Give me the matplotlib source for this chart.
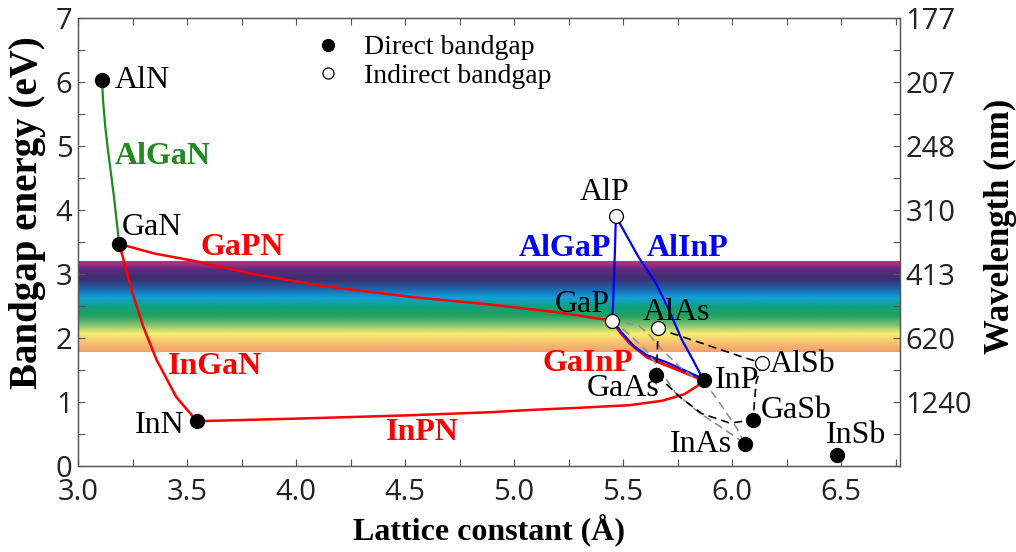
import numpy as np
import matplotlib
matplotlib.use("Agg")
import matplotlib.pyplot as plt
from matplotlib.colors import LinearSegmentedColormap
from matplotlib.lines import Line2D

# ── binary compounds: (lattice constant Å, bandgap eV) ───────────
direct_names = ["AlN", "GaN", "InN", "GaAs", "InP", "GaSb", "InAs", "InSb"]
direct_a     = [3.11, 3.189, 3.545, 5.653, 5.869, 6.096, 6.058, 6.479]
direct_eg    = [6.03, 3.47, 0.70, 1.42, 1.34, 0.72, 0.35, 0.17]

indirect_names = ["AlP", "GaP", "AlAs", "AlSb"]
indirect_a     = [5.467, 5.451, 5.661, 6.136]
indirect_eg    = [3.91, 2.27, 2.16, 1.61]

# ── alloy curves ───────────────────────────────────────────────
algan_a  = [3.11, 3.115, 3.125, 3.135, 3.15, 3.165, 3.178, 3.189]
algan_eg = [6.03, 5.70, 5.30, 5.00, 4.60, 4.20, 3.80, 3.47]

ingan_a  = [3.189, 3.25, 3.30, 3.36, 3.41, 3.45, 3.545]
ingan_eg = [3.47, 2.70, 2.17, 1.66, 1.34, 1.08, 0.70]

gapn_a  = [3.189, 3.35, 3.54, 3.80, 4.11, 4.53, 4.90, 5.20, 5.451]
gapn_eg = [3.47, 3.32, 3.20, 3.00, 2.82, 2.64, 2.52, 2.40, 2.27]

inpn_a  = [3.545, 4.00, 4.50, 4.89, 5.07, 5.30, 5.53, 5.68, 5.78, 5.84, 5.869]
inpn_eg = [0.70, 0.74, 0.79, 0.84, 0.875, 0.91, 0.95, 1.02, 1.12, 1.25, 1.34]

gainp_a  = [5.451, 5.48, 5.53, 5.61, 5.68, 5.869]
gainp_eg = [2.27, 2.12, 1.92, 1.70, 1.60, 1.34]

algap_a  = [5.467, 5.462, 5.456, 5.451]
algap_eg = [3.91, 3.30, 2.70, 2.27]

alinp_a  = [5.467, 5.48, 5.57, 5.65, 5.71, 5.77, 5.82, 5.869]
alinp_eg = [3.91, 3.82, 3.27, 2.86, 2.44, 1.97, 1.66, 1.34]

gainp_blue_a  = [5.451, 5.49, 5.55, 5.61, 5.70, 5.869]
gainp_blue_eg = [2.27, 2.10, 1.87, 1.73, 1.62, 1.36]

# black dashed
alas_gaas_a  = [5.661, 5.653]
alas_gaas_eg = [2.16, 1.42]
alas_alsb_a  = [5.661, 5.70, 5.86, 6.05, 6.136]
alas_alsb_eg = [2.16, 2.10, 1.92, 1.70, 1.61]
alsb_gasb_a  = [6.136, 6.11, 6.096]
alsb_gasb_eg = [1.61, 1.30, 0.72]
gaas_gasb_a  = [5.653, 5.68, 5.76, 5.86, 5.99, 6.096]
gaas_gasb_eg = [1.42, 1.34, 1.08, 0.82, 0.67, 0.72]

# gray dashed
gap_inp_a  = [5.451, 5.57, 5.62, 5.68, 5.76, 5.83, 5.869]
gap_inp_eg = [2.27, 2.20, 2.05, 1.81, 1.55, 1.37, 1.34]
gap_inas_a  = [5.451, 5.52, 5.605, 5.67, 5.74, 5.85, 5.97, 6.058]
gap_inas_eg = [2.27, 2.08, 1.81, 1.50, 1.14, 0.83, 0.56, 0.35]
inp_inas_a  = [5.869, 5.95, 6.02, 6.058]
inp_inas_eg = [1.34, 0.95, 0.60, 0.35]

# visible band
band_lo, band_hi = 1.78, 3.19
band_colors = ["#f0a070", "#f8c070", "#f8f070", "#80c070", "#20a060",
               "#10a080", "#10a0d8", "#2060a8", "#3a3070", "#5a2a7e", "#c0307f"]

wl_ticks  = [1, 2, 3, 4, 5, 6, 7]
wl_labels = ["1240", "620", "413", "310", "248", "207", "177"]

RED, BLUE, GREEN = "#ff0000", "#0000ff", "#1f8a1f"
SERIF = "Liberation Serif"
SANS = "Open Sans"

fig = plt.figure(figsize=(10.16, 5.52), dpi=100)
ax = fig.add_axes([0.0768, 0.1558, 0.809, 0.8116])
xlim = (3.0, 6.77)
ax.set_xlim(*xlim)
ax.set_ylim(0, 7)

cmap = LinearSegmentedColormap.from_list("vis", band_colors)
grad = np.linspace(0, 1, 256).reshape(-1, 1)
ax.imshow(grad, cmap=cmap, origin="lower", aspect="auto",
          extent=[xlim[0], xlim[1], band_lo, band_hi], zorder=0)

ax.plot(algan_a, algan_eg, color=GREEN, lw=1.6, zorder=2)
ax.plot(ingan_a, ingan_eg, color=RED, lw=1.8, zorder=2)
ax.plot(gapn_a, gapn_eg, color=RED, lw=1.8, zorder=2)
ax.plot(inpn_a, inpn_eg, color=RED, lw=1.8, zorder=2)
ax.plot(gainp_a, gainp_eg, color=RED, lw=2.2, zorder=2)
ax.plot(gainp_blue_a, gainp_blue_eg, color=BLUE, lw=1.6, zorder=2)
ax.plot(algap_a, algap_eg, color=BLUE, lw=1.6, zorder=2)
ax.plot(alinp_a, alinp_eg, color=BLUE, lw=1.6, zorder=2)

for xs, ys in [(gap_inp_a, gap_inp_eg), (gap_inas_a, gap_inas_eg),
               (inp_inas_a, inp_inas_eg)]:
    ax.plot(xs, ys, color="#909090", lw=1.2, ls=(0, (5, 3)), zorder=2)
for xs, ys in [(alas_gaas_a, alas_gaas_eg), (alas_alsb_a, alas_alsb_eg),
               (alsb_gasb_a, alsb_gasb_eg), (gaas_gasb_a, gaas_gasb_eg)]:
    ax.plot(xs, ys, color="black", lw=1.2, ls=(0, (5, 3)), zorder=2)

ax.plot(direct_a, direct_eg, "o", ms=10, color="black", ls="none", zorder=4)
ax.plot(indirect_a, indirect_eg, "o", ms=10, mfc="white", mec="black",
        mew=0.9, ls="none", zorder=4)

# ── text labels ────────────────────────────────────────────────
fs = 21
afs = 23
def lab(x, y, s, ha="left", color="black", bold=False, va="center"):
    ax.text(x, y, s, ha=ha, va=va, color=color, fontsize=afs, family=SERIF,
            fontweight="bold" if bold else "normal", zorder=5)

lab(3.17, 6.03, "AlN")
lab(3.17, 4.83, "AlGaN", color=GREEN, bold=True)
lab(3.20, 3.72, "GaN")
lab(3.56, 3.42, "GaPN", color=RED, bold=True)
lab(3.41, 1.55, "InGaN", color=RED, bold=True)
lab(3.49, 0.63, "InN", ha="right")
lab(4.41, 0.52, "InPN", color=RED, bold=True)
lab(5.415, 4.27, "AlP", ha="center")
lab(5.445, 3.40, "AlGaP", ha="right", color=BLUE, bold=True)
lab(5.607, 3.40, "AlInP", color=BLUE, bold=True)
lab(5.44, 2.52, "GaP", ha="right")
lab(5.59, 2.40, "AlAs")
lab(5.547, 1.60, "GaInP", ha="right", color=RED, bold=True)
lab(5.666, 1.21, "GaAs", ha="right")
lab(5.92, 1.34, "InP")
lab(6.175, 1.58, "AlSb")
lab(6.133, 0.87, "GaSb")
lab(6.00, 0.33, "InAs", ha="right")
lab(6.43, 0.47, "InSb")

handles = [
    Line2D([], [], marker="o", ls="none", ms=8.5, color="black"),
    Line2D([], [], marker="o", ls="none", ms=8, mfc="white", mec="black", mew=0.9),
]
ax.legend(handles, ["Direct bandgap", "Indirect bandgap"], loc="upper left",
          bbox_to_anchor=(0.24, 1.018), frameon=False, handletextpad=0.3,
          labelspacing=0.12, prop={"family": SERIF, "size": 20})

# ── axes styling ───────────────────────────────────────────────
ax.set_xticks(np.arange(3.0, 6.51, 0.5))
ax.set_xticks(np.arange(3.0, 6.76, 0.25), minor=True)
ax.set_yticks(range(0, 8))
ax.set_yticks(np.arange(0, 7.01, 0.5), minor=True)
ax.set_xticklabels([f"{v:.1f}" for v in np.arange(3.0, 6.51, 0.5)])
ax.tick_params(which="both", direction="in", top=True, right=False,
               length=5, width=0.8, color="#555555")
ax.tick_params(labelsize=fs, labelcolor="#222222", pad=4)
ax.tick_params(axis="x", pad=9)
for lbl in ax.get_xticklabels() + ax.get_yticklabels():
    lbl.set_family(SANS)
for sp in ax.spines.values():
    sp.set_color("#555555")
    sp.set_linewidth(0.9)

ax.set_xlabel("Lattice constant (Å)", fontsize=23, family=SERIF,
              fontweight="bold", labelpad=4)
ax.set_ylabel("Bandgap energy (eV)", fontsize=28, family=SERIF,
              fontweight="bold")
ax.yaxis.set_label_coords(-0.0395, 0.565)

ax2 = ax.twinx()
ax2.set_ylim(0, 7)
ax2.set_yticks(wl_ticks)
ax2.set_yticklabels(wl_labels)
ax2.set_yticks(np.arange(0, 7.01, 0.5), minor=True)
ax2.tick_params(which="both", direction="in", length=5, width=0.8,
                color="#555555", labelsize=fs, labelcolor="#222222", pad=4)
for lbl in ax2.get_yticklabels():
    lbl.set_family(SANS)
for sp in ax2.spines.values():
    sp.set_color("#555555")
    sp.set_linewidth(0.9)
ax2.set_ylabel("Wavelength (nm)", fontsize=25, family=SERIF,
               fontweight="bold")
ax2.yaxis.set_label_coords(1.102, 0.535)

fig.savefig("out.png", dpi=100)
